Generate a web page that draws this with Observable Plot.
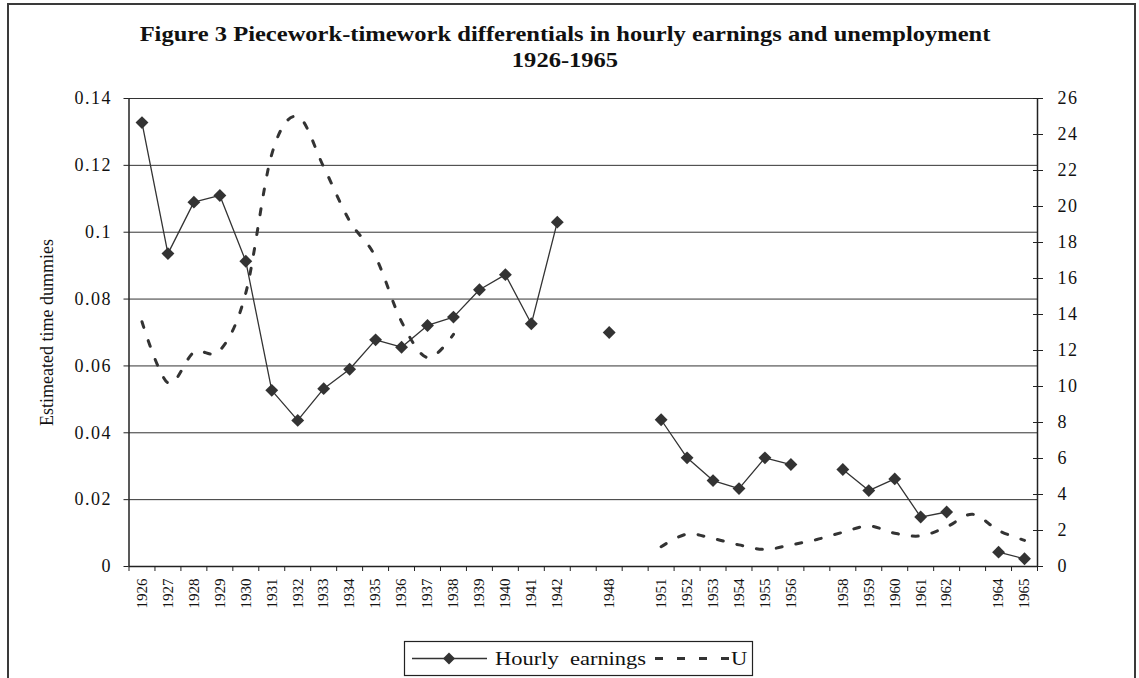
<!DOCTYPE html>
<html>
<head>
<meta charset="utf-8">
<script src="https://cdn.jsdelivr.net/npm/d3@7"></script>
<script src="https://cdn.jsdelivr.net/npm/@observablehq/plot@0.6"></script>
<style>
  html, body { margin: 0; padding: 0; background: #fff; }
  #wrap { position: relative; width: 1139px; height: 678px; overflow: hidden; font-family: "Liberation Serif", "Times New Roman", serif; color: #111; }
  #frame { position: absolute; left: 7px; top: 3px; width: 1129px; height: 720px; border: 2px solid #3a3a3a; box-sizing: border-box; }
  #title { position: absolute; left: 0; top: 21px; width: 1130px; text-align: center; font-weight: bold; font-size: 21px; line-height: 26px; transform: scaleX(1.168); transform-origin: 565px 0; white-space: nowrap; }
  #chart { position: absolute; left: 0; top: 88px; }
  #legend { position: absolute; left: 404px; top: 641px; }
  g[aria-label="y-axis tick label"] { letter-spacing: 1.5px; }
</style>
</head>
<body>
<div id="wrap">
  <div id="frame"></div>
  <div id="title">Figure 3 Piecework-timework differentials in hourly earnings and unemployment<br>1926-1965</div>
  <div id="chart"></div>
  <div id="legend"></div>
</div>
<script>
// Category labels (blank slots are unlabeled categories in the original)
const labels = ["1926","1927","1928","1929","1930","1931","1932","1933","1934","1935","1936","1937","1938","1939","1940","1941","1942","","1948","","1951","1952","1953","1954","1955","1956","","1958","1959","1960","1961","1962","","1964","1965"];

// Hourly earnings: estimated time dummies (left axis)
const earnings = [0.1328,0.0936,0.109,0.111,0.0913,0.0527,0.0437,0.0532,0.059,0.0678,0.0656,0.0721,0.0746,0.0828,0.0873,0.0726,0.103,null,0.070,null,0.0439,0.0325,0.0257,0.0233,0.0325,0.0305,null,0.029,0.0227,0.0262,0.0148,0.0163,null,0.0043,0.0023];

// U: unemployment (right axis)
const unemployment = [13.6,10.2,11.9,12.0,15.2,22.9,25.0,22.2,19.2,17.2,13.6,11.6,12.9,null,null,null,null,null,null,null,1.1,1.8,1.55,1.2,0.95,1.2,1.5,1.9,2.25,1.85,1.7,2.2,2.9,2.0,1.45];

const leftTicks = [0,0.02,0.04,0.06,0.08,0.1,0.12,0.14];
const leftTickLabels = ["0","0.02","0.04","0.06","0.08","0.1","0.12","0.14"];
const rightTicks = [0,2,4,6,8,10,12,14,16,18,20,22,24,26];

const Y_MAX = 0.14, U_MAX = 26;
const toLeft = u => u == null ? null : u * Y_MAX / U_MAX;

const rows = labels.map((label, i) => ({i, label, e: earnings[i], u: toLeft(unemployment[i])}));
const idx = d3.range(labels.length);
const bounds = d3.range(labels.length + 1).map(k => k - 0.5);
const rightScaled = rightTicks.map(toLeft);

const chart = Plot.plot({
  width: 1139,
  height: 536,
  marginTop: 10,
  marginBottom: 58,
  marginLeft: 128.5,
  marginRight: 102,
  x: {type: "linear", domain: [-0.5, labels.length - 0.5], axis: null, label: null},
  y: {domain: [0, Y_MAX], axis: null, label: null},
  style: {fontFamily: "'Liberation Serif', 'Times New Roman', serif", fontSize: "18px", color: "#111", background: "transparent", overflow: "visible"},
  marks: [
    Plot.ruleY(leftTicks.filter(d => d > 0), {stroke: "#333", strokeWidth: 1}),
    Plot.ruleY([0], {stroke: "#222", strokeWidth: 1.5}),
    Plot.ruleX([bounds[0], bounds[bounds.length - 1]], {stroke: "#222", strokeWidth: 1.5}),
    Plot.axisY(leftTicks, {anchor: "left", label: null, tickSize: 5, tickPadding: 12, fontSize: 18, stroke: "#222",
      tickFormat: d => leftTickLabels[leftTicks.indexOf(d)]}),
    Plot.axisY(rightScaled, {anchor: "right", label: null, tickSize: 10, dx: -5, tickPadding: 15, fontSize: 18, stroke: "#222",
      tickFormat: d => String(rightTicks[rightScaled.indexOf(d)])}),
    Plot.axisX(bounds, {anchor: "bottom", label: null, tickSize: 5, stroke: "#222", tickFormat: () => ""}),
    Plot.axisX(idx, {anchor: "bottom", label: null, tickSize: 0, tickPadding: 12, tickRotate: -90, fontSize: 15,
      tickFormat: i => labels[i]}),
    Plot.text(["Estimeated time dummies"], {frameAnchor: "left", textAnchor: "middle", dx: -82, rotate: -90, fontSize: 18, fill: "#111"}),
    Plot.line(rows, {x: "i", y: "u", curve: "cardinal", stroke: "#333", strokeWidth: 3, strokeDasharray: "6,14"}),
    Plot.line(rows, {x: "i", y: "e", stroke: "#333", strokeWidth: 1.3}),
    Plot.dot(rows.filter(d => d.e != null), {x: "i", y: "e", symbol: "diamond2", r: 5.8, fill: "#333", stroke: "none"})
  ]
});
document.getElementById("chart").appendChild(chart);

// Legend
const legendSvg = `
<svg width="350" height="36" xmlns="http://www.w3.org/2000/svg" style="overflow:visible">
  <rect x="0.5" y="0.5" width="348" height="34" fill="#fff" stroke="#222" stroke-width="1.2"/>
  <line x1="8" y1="17.5" x2="83" y2="17.5" stroke="#333" stroke-width="1.3"/>
  <path d="M45,11.5 L51,17.5 L45,23.5 L39,17.5 Z" fill="#333"/>
  <text transform="translate(91,24) scale(1.25,1)" font-family="Liberation Serif, Times New Roman, serif" font-size="18" fill="#111" style="white-space:pre">Hourly  earnings</text>
  <line x1="251" y1="17.5" x2="326" y2="17.5" stroke="#333" stroke-width="3" stroke-dasharray="8,14"/>
  <text transform="translate(327,24) scale(1.25,1)" font-family="Liberation Serif, Times New Roman, serif" font-size="18" fill="#111">U</text>
</svg>`;
document.getElementById("legend").innerHTML = legendSvg;
</script>
</body>
</html>
